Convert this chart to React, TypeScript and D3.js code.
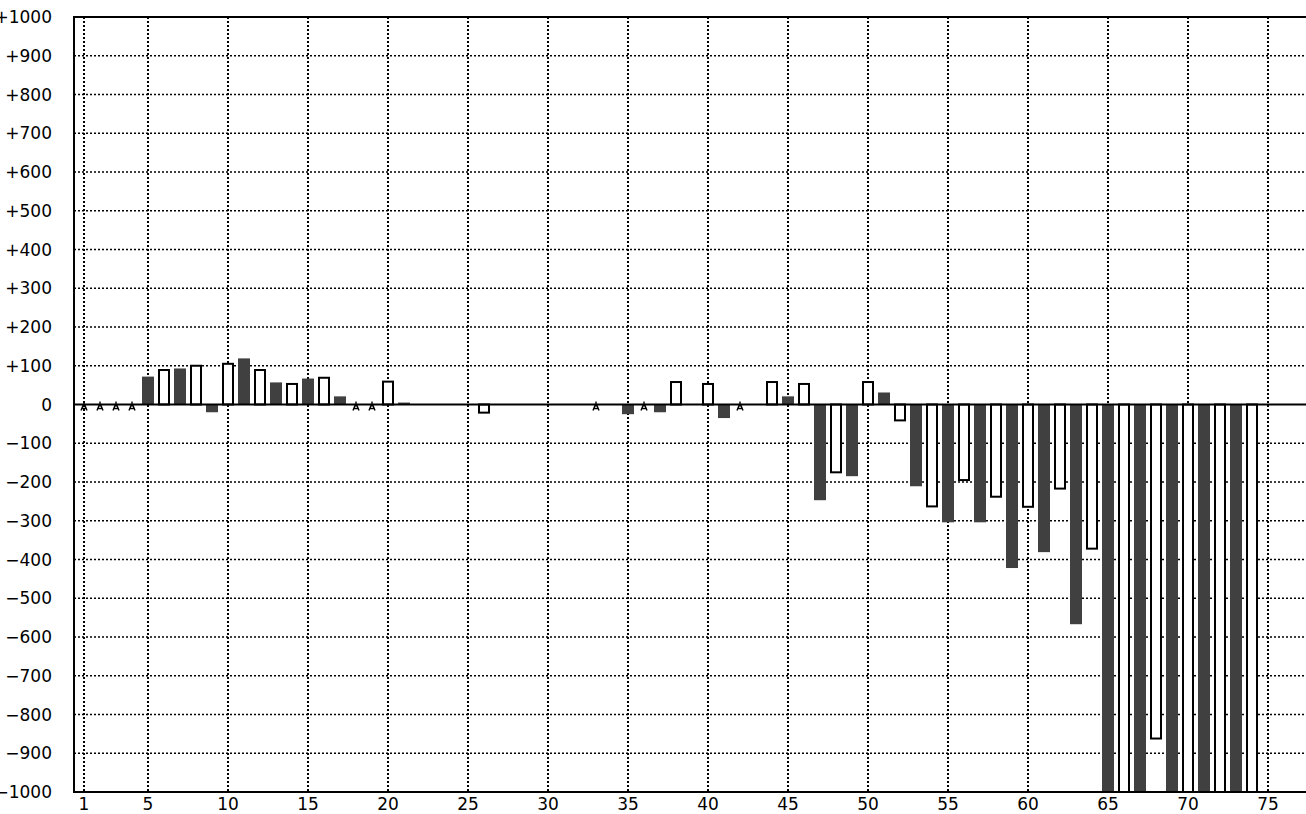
import React from "react";
import * as d3 from "d3";

// Bar positions (x category) and their values
const barPositions = [
  5, 6, 7, 8, 9, 10, 11, 12, 13, 14, 15, 16, 17, 20, 21, 26, 35, 37, 38, 40, 41,
  44, 45, 46, 47, 48, 49, 50, 51, 52, 53, 54, 55, 56, 57, 58, 59, 60, 61, 62, 63,
  64, 65, 66, 67, 68, 69, 70, 71, 72, 73, 74,
];
const barValues = [
  72, 89, 93, 100, -20, 105, 119, 89, 57, 53, 67, 69, 21, 59, 5, -21, -25, -20, 58, 53, -35,
  58, 21, 53, -247, -175, -185, 58, 31, -41, -211, -263, -304, -195, -304, -238, -422, -264, -381, -217, -567,
  -372, -1000, -1000, -1000, -862, -1000, -1000, -1000, -1000, -1000, -1000,
];
// Positions with a zero-value marker
const zeroMarkers = [1, 2, 3, 4, 18, 19, 33, 36, 42];

const xTicks = [1, 5, 10, 15, 20, 25, 30, 35, 40, 45, 50, 55, 60, 65, 70, 75];
const yTicks = [1000, 900, 800, 700, 600, 500, 400, 300, 200, 100, 0, -100, -200, -300, -400, -500, -600, -700, -800, -900, -1000];

const W = 1306;
const H = 814;
const left = 74;
const top = 17;
const bottom = 792;
const right = 1306;

export default function App() {
  const x = d3.scaleLinear().domain([1, 75]).range([84, 1268]);
  const y = d3.scaleLinear().domain([-1000, 1000]).range([bottom, top]);
  const y0 = y(0);
  const fmt = (v: number) => (v > 0 ? "+" + v : v < 0 ? "\u2212" + Math.abs(v) : "0");
  const font = { fontFamily: "'DejaVu Sans', Verdana, sans-serif", fontSize: 17 } as const;

  return (
    <svg width={W} height={H} style={{ position: "fixed", left: 0, top: 0, background: "#fff" }}>
      <defs>
        <clipPath id="plot">
          <rect x={left} y={top} width={right - left} height={bottom - top} />
        </clipPath>
      </defs>
      {/* grid */}
      <g stroke="#000" fill="none">
        {yTicks
          .filter((t) => t !== 1000 && t !== -1000 && t !== 0)
          .map((t) => (
            <line key={"h" + t} x1={left} x2={right} y1={y(t)} y2={y(t)} strokeWidth={1.5} strokeDasharray="2,2" />
          ))}
        {xTicks.map((t) => (
          <line key={"v" + t} x1={x(t)} x2={x(t)} y1={top} y2={bottom} strokeWidth={2} strokeDasharray="2,2" />
        ))}
      </g>
      {/* bars */}
      <g clipPath="url(#plot)">
        {barPositions.map((p, i) => {
          const v = barValues[i];
          const yv = y(v);
          const y1 = Math.min(yv, y0);
          const h = Math.abs(yv - y0);
          const cx = x(p);
          if (p % 2 === 1) {
            return <rect key={p} x={cx - 6} y={y1} width={12} height={h} fill="#404040" />;
          }
          return (
            <rect key={p} x={cx - 5} y={y1} width={10} height={h} fill="#fff" stroke="#000" strokeWidth={2} />
          );
        })}
      </g>
      {/* zero line and frame */}
      <line x1={left} x2={right} y1={y0} y2={y0} stroke="#000" strokeWidth={2} />
      <line x1={left - 1} x2={right} y1={top} y2={top} stroke="#000" strokeWidth={2} />
      <line x1={left - 1} x2={right} y1={bottom} y2={bottom} stroke="#000" strokeWidth={2} />
      <line x1={left} x2={left} y1={top} y2={bottom} stroke="#000" strokeWidth={2} />
      {/* zero markers */}
      <g stroke="#000" strokeWidth={1.4} fill="none">
        {zeroMarkers.map((p) => {
          const cx = x(p);
          return (
            <path
              key={"m" + p}
              d={`M${cx},${y0 - 3}V${y0 + 2}M${cx - 3},${y0 + 6}L${cx - 1},${y0 + 1}H${cx + 1}L${cx + 3},${y0 + 6}M${cx - 2},${y0 + 4}H${cx + 2}`}
            />
          );
        })}
      </g>
      {/* labels */}
      <g {...font} fill="#000">
        {yTicks.map((t) => (
          <text key={"yl" + t} x={52} y={y(t)} dy="0.36em" textAnchor="end">
            {fmt(t)}
          </text>
        ))}
        {xTicks.map((t) => (
          <text key={"xl" + t} x={x(t)} y={810} textAnchor="middle">
            {t}
          </text>
        ))}
      </g>
    </svg>
  );
}
